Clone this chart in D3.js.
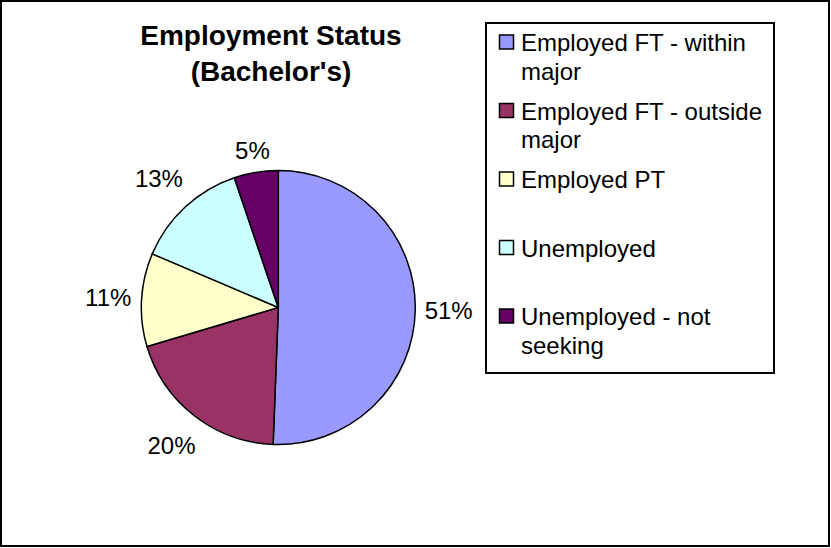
<!DOCTYPE html>
<html>
<head>
<meta charset="utf-8">
<script src="https://cdn.jsdelivr.net/npm/d3@7"></script>
<style>
  body { margin: 0; background: #fff; }
  text { font-family: Arial, "Liberation Sans", sans-serif; fill: #000; }
</style>
</head>
<body>
<div id="chart"></div>
<script>
// data (percent of respondents)
const categories = [
  "Employed FT - within major",
  "Employed FT - outside major",
  "Employed PT",
  "Unemployed",
  "Unemployed - not seeking"
];
const shares = [50.6, 19.8, 11.0, 13.4, 5.2];
const colors = ["#9999FF", "#993366", "#FFFFCC", "#CCFFFF", "#660066"];
const titleLines = ["Employment Status", "(Bachelor's)"];

const W = 831, H = 548;
const cx = 278.3, cy = 307.5, r = 137;

const svg = d3.select("#chart").append("svg")
  .attr("width", W)
  .attr("height", H);

// outer chart border
svg.append("rect")
  .attr("x", 1).attr("y", 1)
  .attr("width", W - 3).attr("height", H - 3)
  .attr("fill", "#fff")
  .attr("stroke", "#000")
  .attr("stroke-width", 2);

// title
svg.append("text")
  .attr("x", 271)
  .attr("y", 45)
  .attr("text-anchor", "middle")
  .attr("font-size", "28px")
  .attr("font-weight", "bold")
  .selectAll("tspan")
  .data(titleLines)
  .enter()
  .append("tspan")
  .attr("x", 271)
  .attr("dy", (d, i) => i === 0 ? 0 : 35.5)
  .text(d => d);

// pie
const pie = d3.pie().sort(null).value(d => d);
const arcs = pie(shares);
const arc = d3.arc().innerRadius(0).outerRadius(r);

const g = svg.append("g").attr("transform", `translate(${cx},${cy})`);

g.selectAll("path")
  .data(arcs)
  .enter()
  .append("path")
  .attr("d", arc)
  .attr("fill", (d, i) => colors[i])
  .attr("stroke", "#000")
  .attr("stroke-width", 1.5)
  .attr("stroke-linejoin", "round");

// percentage labels, pushed just outside the rim
const total = d3.sum(shares);
const labels = g.selectAll(".pct")
  .data(arcs)
  .enter()
  .append("text")
  .attr("class", "pct")
  .attr("font-size", "24px")
  .attr("text-anchor", "middle")
  .attr("dy", "0.35em")
  .text(d => Math.round(d.value / total * 100) + "%");

labels.each(function(d) {
  const w = this.getComputedTextLength();
  const h = 17;
  const a = (d.startAngle + d.endAngle) / 2;
  const ux = Math.sin(a), uy = -Math.cos(a);
  const gap = 9 + 7 * Math.abs(Math.sin(2 * a));
  const R = r + gap + Math.abs(ux) * w / 2 + Math.abs(uy) * h / 2;
  d3.select(this).attr("x", R * ux).attr("y", R * uy);
});

// legend
const lx = 486, ly = 23, lw = 288, lh = 350;
svg.append("rect")
  .attr("x", lx).attr("y", ly)
  .attr("width", lw).attr("height", lh)
  .attr("fill", "#fff")
  .attr("stroke", "#000")
  .attr("stroke-width", 2);

const slot = 68.5, lineH = 28.5, maxTextW = 252;

const items = svg.append("g").selectAll("g")
  .data(categories)
  .enter()
  .append("g")
  .attr("transform", (d, i) => `translate(${lx}, ${ly + 28 + i * slot})`);

items.append("rect")
  .attr("x", 13.5)
  .attr("y", -16)
  .attr("width", 14)
  .attr("height", 14)
  .attr("fill", (d, i) => colors[i])
  .attr("stroke", "#000")
  .attr("stroke-width", 1.5);

items.append("text")
  .attr("x", 35)
  .attr("font-size", "24px")
  .each(function(d) {
    // wrap words the way the legend does
    const t = d3.select(this);
    const words = d.split(" ");
    let line = [];
    let tspan = t.append("tspan").attr("x", 35).attr("dy", 0);
    words.forEach(wd => {
      line.push(wd);
      tspan.text(line.join(" "));
      if (tspan.node().getComputedTextLength() > maxTextW && line.length > 1) {
        line.pop();
        tspan.text(line.join(" "));
        line = [wd];
        tspan = t.append("tspan").attr("x", 35).attr("dy", lineH).text(wd);
      }
    });
  });
</script>
</body>
</html>
